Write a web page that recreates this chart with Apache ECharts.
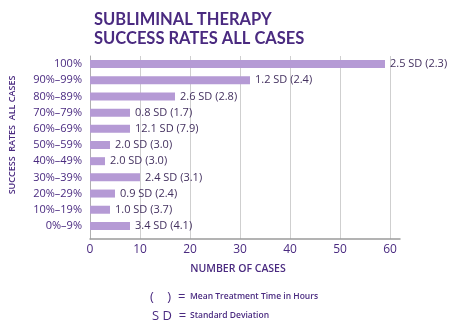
<!DOCTYPE html>
<html>
<head>
<meta charset="utf-8">
<script src="https://cdn.jsdelivr.net/npm/echarts@6/dist/echarts.min.js"></script>
<style>
  html, body { margin: 0; padding: 0; background: #fff; }
  #chart { width: 454px; height: 328px; }
</style>
</head>
<body>
<div id="chart"></div>
<script>
// Success-rate bands, top to bottom
const categories = ['100%', '90%–99%', '80%–89%', '70%–79%', '60%–69%', '50%–59%',
                    '40%–49%', '30%–39%', '20%–29%', '10%–19%', '0%–9%'];
// Number of cases in each band
const cases = [59, 32, 17, 8, 8, 4, 3, 10, 5, 4, 8];
// Standard deviation and mean treatment time (hours) per band
const sdValues = ['2.5', '1.2', '2.6', '0.8', '12.1', '2.0', '2.0', '2.4', '0.9', '1.0', '3.4'];
const meanHours = ['2.3', '2.4', '2.8', '1.7', '7.9', '3.0', '3.0', '3.1', '2.4', '3.7', '4.1'];
const xTicks = [0, 10, 20, 30, 40, 50, 60];

const purple = '#4a2a80';
const font = '"Open Sans", "Noto Sans", sans-serif';
const titleFont = 'Lato, "Open Sans", sans-serif';

const chart = echarts.init(document.getElementById('chart'), null, { renderer: 'canvas' });

chart.setOption({
  backgroundColor: '#ffffff',
  animation: false,
  title: {
    text: 'SUBLIMINAL THERAPY\nSUCCESS RATES ALL CASES',
    left: 89, top: 5,
    textStyle: { color: purple, fontFamily: titleFont, fontSize: 16.5, fontWeight: 700, lineHeight: 19 }
  },
  graphic: [
    {
      type: 'text', x: 12, y: 135, rotation: Math.PI / 2,
      style: { text: 'SUCCESS  RATES  ALL CASES', fill: purple, font: '600 9px ' + font,
               textAlign: 'center', textVerticalAlign: 'middle' }
    },
    {
      type: 'text', x: 238, y: 269,
      style: { text: 'NUMBER OF CASES', fill: purple, font: '600 10.5px ' + font,
               textAlign: 'center', textVerticalAlign: 'middle' }
    },
    {
      type: 'text', x: 150, y: 297,
      style: { text: '(    )  =', fill: purple, font: '500 13px ' + font, textVerticalAlign: 'middle' }
    },
    {
      type: 'text', x: 190, y: 297,
      style: { text: 'Mean Treatment Time in Hours', fill: purple, font: '600 8.5px ' + font, textVerticalAlign: 'middle' }
    },
    {
      type: 'text', x: 152, y: 316,
      style: { text: 'S D  =', fill: purple, font: '500 13px ' + font, textVerticalAlign: 'middle' }
    },
    {
      type: 'text', x: 190, y: 316,
      style: { text: 'Standard Deviation', fill: purple, font: '600 8.5px ' + font, textVerticalAlign: 'middle' }
    }
  ],
  grid: [
    // bars
    { left: 90, right: 54, top: 56, height: 178 },
    // grid lines and tick labels
    { left: 90, right: 64, top: 56, height: 183 },
    // bottom axis line, running a little past the last tick
    { left: 90, right: 54, top: 56, height: 183 }
  ],
  xAxis: [
    { gridIndex: 0, type: 'value', min: 0, max: 62, show: false },
    {
      gridIndex: 1, type: 'value', min: xTicks[0], max: xTicks[xTicks.length - 1], interval: 10,
      axisLine: { show: false }, axisTick: { show: false },
      splitLine: { show: true, lineStyle: { color: '#cfcfcf', width: 1 } },
      axisLabel: { color: purple, fontFamily: font, fontSize: 12, fontWeight: 500, margin: 5 }
    },
    {
      gridIndex: 2, type: 'value', min: 0, max: 62,
      axisLine: { show: true, lineStyle: { color: '#9a9a9a', width: 1.5 } },
      axisTick: { show: false }, axisLabel: { show: false }, splitLine: { show: false }
    }
  ],
  yAxis: [
    {
      gridIndex: 0, type: 'category', data: categories, inverse: true,
      axisLine: { show: false }, axisTick: { show: false },
      axisLabel: { color: purple, fontFamily: font, fontSize: 11, fontWeight: 500, margin: 8 }
    },
    {
      gridIndex: 1, type: 'value', min: 0, max: 1,
      axisLine: { show: true, lineStyle: { color: '#b0b0b0', width: 1 } },
      axisTick: { show: false }, axisLabel: { show: false }, splitLine: { show: false }
    },
    {
      gridIndex: 2, type: 'value', min: 0, max: 1, show: false
    }
  ],
  series: [{
    type: 'bar',
    xAxisIndex: 0, yAxisIndex: 0,
    data: cases,
    barWidth: 8,
    itemStyle: { color: '#b59ad5' },
    label: {
      show: true, position: 'right', distance: 5,
      color: '#43305f', fontFamily: font, fontSize: 11,
      formatter: p => sdValues[p.dataIndex] + ' SD (' + meanHours[p.dataIndex] + ')'
    }
  }]
});
</script>
</body>
</html>
